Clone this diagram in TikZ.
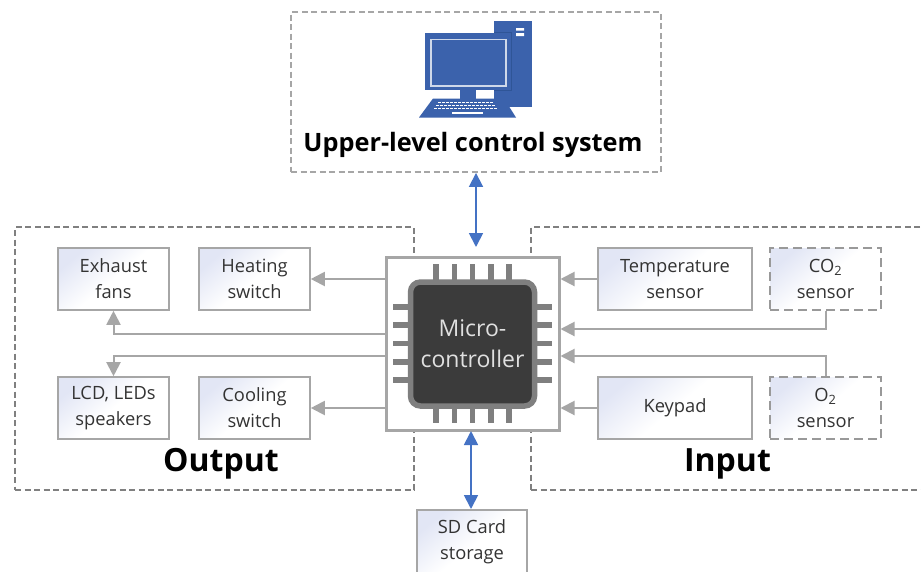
\documentclass[tikz,border=0pt]{standalone}
\usepackage{fontspec}
\setmainfont{Open Sans}
\usetikzlibrary{arrows.meta,calc}
\definecolor{boxline}{HTML}{A6A6A6}
\definecolor{dashline}{HTML}{808080}
\definecolor{fillblue}{HTML}{E2E6F5}
\definecolor{inkdark}{HTML}{333333}
\definecolor{pcblue}{HTML}{3B62AC}
\definecolor{pcedge}{HTML}{2F5597}
\definecolor{linkblue}{HTML}{4472C4}
\definecolor{chipdark}{HTML}{3B3B3B}
\definecolor{chipedge}{HTML}{7F7F7F}
\tikzset{
  devbox/.style={draw=boxline,line width=1.6pt,top color=fillblue,bottom color=white,middle color=white,shading angle=40,
    inner sep=0pt,align=center,text=inkdark,font=\fontsize{18.3}{26}\selectfont,minimum height=62pt,minimum width=111pt},
  widebox/.style={devbox,minimum width=154pt},
  optbox/.style={devbox,dash pattern=on 9pt off 5pt,draw=dashline!80},
  group/.style={draw=dashline,line width=1.3pt,dash pattern=on 6pt off 3.5pt,inner sep=0pt},
  grouptitle/.style={font=\bfseries\fontsize{32}{36}\selectfont,text=black,inner sep=0pt},
  feed/.style={draw=boxline,line width=2pt,-{Triangle[length=14pt,width=14pt]}},
  link/.style={draw=linkblue,line width=1.8pt,{Triangle[length=14pt,width=14pt]}-{Triangle[length=14pt,width=14pt]}},
  pin/.style={draw=chipedge,line width=5.5pt},
  pcpart/.style={fill=pcblue,draw=none},
}
\begin{document}
\begin{tikzpicture}[x=1pt,y=-1pt]
\useasboundingbox (0,0) rectangle (921,571);
\fill[white] (0,0) rectangle (921,571);
% groups
\node[group,draw=boxline,line width=1.9pt,minimum width=370pt,minimum height=160pt] (upper) at (476,92) {};
\node[group,minimum width=399pt,minimum height=263pt] (output) at (214.5,358.5) {};
\node[group,minimum width=405pt,minimum height=263pt] (input) at (733.5,358.5) {};
% computer icon
\fill[pcpart] (494,20.5) rectangle (532,107);
\fill[pcpart] (425,32.5) rectangle (511,90);
\draw[pcedge,line width=0.8pt] (494,32.5) -- (511,32.5) -- (511,90) -- (494,90);
\draw[white!75!pcblue,line width=1.1pt] (431,39.5) rectangle (506,86);
\fill[white] (516,28) rectangle (524,30.5) (516,33) rectangle (524,36);
\fill[white] (476,90.5) rectangle (494,98);
\fill[pcpart] (460,90) rectangle (476,99);
\fill[pcpart] (433,98.5) -- (504,98.5) -- (516,117.5) -- (419,117.5) -- cycle;
\foreach \yy/\a/\b in {102.5/438/493,105.5/436/495,108.5/434/497}
  \draw[white,line width=1.6pt,dash pattern=on 3pt off 1pt] (\a,\yy) -- (\b,\yy);
\fill[white] (452,111.5) rectangle (483,114);
\node[font=\bfseries\fontsize{25.3}{28}\selectfont,text=black,inner sep=0pt] (uppertitle) at (473,145) {Upper-level control system};
% boxes
\node[devbox] (exhaust) at (113.5,279) {Exhaust\\fans};
\node[devbox] (heating) at (254.5,279) {Heating\\switch};
\node[devbox] (lcd) at (113.5,408) {LCD, LEDs\\speakers};
\node[devbox] (cooling) at (254.5,408) {Cooling\\switch};
\node[widebox] (temp) at (675,279) {Temperature\\sensor};
\node[widebox] (keypad) at (675,408) {Keypad};
\node[optbox] (co2) at (825.5,279) {CO\textsubscript{2}\\sensor};
\node[optbox] (o2) at (825.5,408) {O\textsubscript{2}\\sensor};
\node[devbox,minimum height=72pt,minimum width=110pt,anchor=north] (sd) at (472,509) {};
\node[text=inkdark,font=\fontsize{18.3}{26}\selectfont,align=center,inner sep=0pt] (sdtext) at (472,541.5) {SD Card\\storage};
% titles
\node[grouptitle] (outtitle) at (221,464) {Output};
\node[grouptitle] (intitle) at (727.5,464) {Input};
% microcontroller
\node[draw=boxline,line width=3pt,fill=white,minimum size=173pt,inner sep=0pt] (mcu) at (472.5,343.5) {};
\foreach \p in {436,454.3,472.5,490.8,509} {
  \draw[pin] (\p,264) -- (\p,285);
  \draw[pin] (\p,402) -- (\p,423);
}
\foreach \p in {306.8,325,343.5,361.8,380} {
  \draw[pin] (393,\p) -- (414,\p);
  \draw[pin] (531,\p) -- (552,\p);
}
\node[draw=chipedge,line width=5.5pt,fill=chipdark,rounded corners=10pt,minimum size=124pt,inner sep=0pt,
  text=white!88!black,align=center,font=\fontsize{23}{31}\selectfont] (chip) at (472.5,344) {Micro-\\controller};
% connectors
\coordinate (mw1) at (mcu.west |- heating);
\coordinate (mw2) at ($(mcu.west)+(0,-9.5)$);
\coordinate (mw3) at ($(mcu.west)+(0,12.5)$);
\coordinate (mw4) at (mcu.west |- cooling);
\coordinate (me3) at ($(mcu.east)+(0,-14.5)$);
\coordinate (me4) at ($(mcu.east)+(0,12.5)$);
\path[feed] (mw1) -- (heating.east);
\path[feed] (mw2) -| (exhaust.south);
\path[feed] (mw3) -| (lcd.north);
\path[feed] (mw4) -- (cooling.east);
\path[feed] (temp.west) -- (mcu.east |- temp);
\path[feed] (co2.south) |- (me3);
\path[feed] (o2.north) |- (me4);
\path[feed] (keypad.west) -- (mcu.east |- keypad);
\coordinate (uplink) at (476,172);
\coordinate (mculinktop) at (476,247);
\coordinate (mculinkbot) at (471,431);
\coordinate (sdlink) at (471,509);
\path[link] (upper.south -| uplink) -- (mculinktop);
\path[link] (mculinkbot) -- (sdlink |- sd.north);
\end{tikzpicture}
\end{document}
